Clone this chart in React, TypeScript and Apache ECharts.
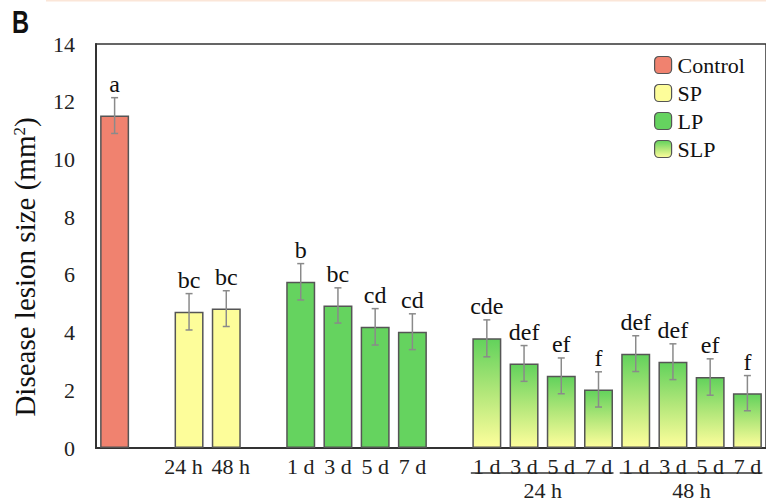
import React, { useEffect, useRef } from "react";
import * as echarts from "echarts";

// ---- data ----
const categoryIds = [
  "Control", "gap1", "SP-24h", "SP-48h", "gap2",
  "LP-1d", "LP-3d", "LP-5d", "LP-7d", "gap3",
  "SLP24-1d", "SLP24-3d", "SLP24-5d", "SLP24-7d",
  "SLP48-1d", "SLP48-3d", "SLP48-5d", "SLP48-7d",
];
const tickLabels = [
  "", "", "24 h", "48 h", "",
  "1 d", "3 d", "5 d", "7 d", "",
  "1 d", "3 d", "5 d", "7 d",
  "1 d", "3 d", "5 d", "7 d",
];
const groupOf = [
  "Control", "", "SP", "SP", "",
  "LP", "LP", "LP", "LP", "",
  "SLP", "SLP", "SLP", "SLP",
  "SLP", "SLP", "SLP", "SLP",
];
const means = [
  11.52, null, 4.72, 4.83, null,
  5.76, 4.94, 4.2, 4.03, null,
  3.8, 2.93, 2.5, 2.03,
  3.27, 2.99, 2.46, 1.9,
];
const errors = [
  0.62, null, 0.63, 0.62, null,
  0.63, 0.61, 0.63, 0.62, null,
  0.64, 0.62, 0.62, 0.61,
  0.62, 0.62, 0.63, 0.61,
];
const letters = [
  "a", "", "bc", "bc", "",
  "b", "bc", "cd", "cd", "",
  "cde", "def", "ef", "f",
  "def", "def", "ef", "f",
];
const seriesNames = ["Control", "SP", "LP", "SLP"];
const subGroups = [
  { label: "24 h", from: 10, to: 13 },
  { label: "48 h", from: 14, to: 17 },
];
const yTicks = { min: 0, max: 14, interval: 2 };

const SERIF = "Liberation Serif";
const BORDER = "#555";

const colorFor = (name: string): any => {
  if (name === "Control") return "#f0826f";
  if (name === "SP") return "#fdfd9a";
  if (name === "LP") return "#65d35f";
  return new echarts.graphic.LinearGradient(0, 0, 0, 1, [
    { offset: 0, color: "#62d25c" },
    { offset: 0.5, color: "#b3e77a" },
    { offset: 1, color: "#fefe9c" },
  ]);
};

export default function App() {
  const ref = useRef<HTMLDivElement>(null);

  useEffect(() => {
    document.body.style.margin = "0";
    document.body.style.overflow = "hidden";
    if (!ref.current) return;
    const chart = echarts.init(ref.current, undefined, { renderer: "svg" });

    const barSeries = seriesNames.map((name) => ({
      name,
      type: "bar",
      barWidth: 29,
      barGap: "-100%",
      itemStyle: { color: colorFor(name), borderColor: BORDER, borderWidth: 1.5 },
      data: means.map((v, i) => (groupOf[i] === name && v != null ? v : "-")),
    }));

    const errData = means
      .map((v, i) => (v != null ? [i, v, errors[i] as number] : null))
      .filter((d) => d !== null);

    const errSeries = {
      type: "custom",
      name: "err",
      silent: true,
      data: errData,
      renderItem: (params: any, api: any) => {
        const idx = api.value(0);
        const m = api.value(1);
        const e = api.value(2);
        const top = api.coord([idx, m + e]);
        const bot = api.coord([idx, m - e]);
        const cap = 3.5;
        const st = { stroke: "#8a8a8a", lineWidth: 1.5 };
        return {
          type: "group",
          children: [
            { type: "line", shape: { x1: top[0], y1: top[1], x2: bot[0], y2: bot[1] }, style: st },
            { type: "line", shape: { x1: top[0] - cap, y1: top[1], x2: top[0] + cap, y2: top[1] }, style: st },
            { type: "line", shape: { x1: bot[0] - cap, y1: bot[1], x2: bot[0] + cap, y2: bot[1] }, style: st },
            {
              type: "text",
              x: top[0],
              y: top[1] - 2,
              style: {
                text: letters[idx],
                fontFamily: SERIF,
                fontSize: 24,
                fill: "#111",
                align: "center",
                verticalAlign: "bottom",
              },
            },
          ],
        };
      },
      z: 5,
    };

    const baseGraphic: any[] = [
      {
        type: "line",
        shape: { x1: 46, y1: 0.5, x2: 766, y2: 0.5 },
        style: { stroke: "#fbe6d8", lineWidth: 2 },
      },
      {
        type: "text",
        x: 12,
        y: 22,
        scaleX: 0.74,
        style: {
          text: "B",
          fontFamily: "Liberation Sans",
          fontWeight: "bold",
          fontSize: 32,
          fill: "#111",
          align: "left",
          verticalAlign: "middle",
        },
      },
      {
        type: "text",
        x: 25,
        y: 267,
        rotation: Math.PI / 2,
        style: {
          text: "Disease lesion size (mm{sup|2})",
          fontFamily: SERIF,
          fontSize: 29,
          fill: "#111",
          align: "center",
          verticalAlign: "middle",
          rich: {
            sup: { fontFamily: SERIF, fontSize: 17, fill: "#111", verticalAlign: "top" },
          },
        },
      },
    ];

    const labelRich = {
      l: { fontFamily: SERIF, fontSize: 22, color: "#222", padding: [0, 11, 0, 0] },
      r: { fontFamily: SERIF, fontSize: 22, color: "#222", padding: [0, 0, 0, 9] },
    };

    chart.setOption({
      animation: false,
      grid: {
        left: 96,
        right: -5,
        top: 44,
        bottom: 53,
        show: true,
        borderColor: "#333",
        borderWidth: 1.5,
        backgroundColor: "transparent",
      },
      legend: {
        orient: "vertical",
        left: 654,
        top: 54,
        padding: 0,
        itemWidth: 17,
        itemHeight: 17,
        itemGap: 6,
        data: seriesNames,
        itemStyle: { borderColor: BORDER, borderWidth: 1.2 },
        textStyle: { fontFamily: SERIF, fontSize: 22, color: "#111", padding: [0, 0, 0, 1] },
      },
      xAxis: {
        type: "category",
        data: categoryIds,
        axisLine: { show: true, lineStyle: { color: "#333", width: 2 } },
        axisTick: { show: false },
        axisLabel: {
          interval: 0,
          margin: 7,
          fontFamily: SERIF,
          fontSize: 22,
          color: "#222",
          rich: labelRich,
          formatter: (_v: string, i: number) => {
            const t = tickLabels[i];
            if (groupOf[i] === "SP") return i === 2 ? `{l|${t}}` : `{r|${t}}`;
            return t;
          },
        },
        splitLine: { show: false },
      },
      yAxis: {
        type: "value",
        min: yTicks.min,
        max: yTicks.max,
        interval: yTicks.interval,
        axisLine: { show: true, lineStyle: { color: "#333", width: 2 } },
        axisTick: { show: false },
        axisLabel: { margin: 21, fontFamily: SERIF, fontSize: 22, color: "#222" },
        splitLine: { show: false },
      },
      series: [...barSeries, errSeries],
      graphic: baseGraphic,
    });

    const y0 = chart.convertToPixel({ yAxisIndex: 0 }, 0) as number;
    const extra: any[] = [];
    subGroups.forEach((g) => {
      const xa = chart.convertToPixel({ xAxisIndex: 0 }, g.from) as number;
      const xb = chart.convertToPixel({ xAxisIndex: 0 }, g.to) as number;
      extra.push({
        type: "line",
        shape: { x1: xa - 16, y1: y0 + 25, x2: xb + 15, y2: y0 + 25 },
        style: { stroke: "#333", lineWidth: 1.5 },
      });
      extra.push({
        type: "text",
        x: (xa + xb) / 2,
        y: y0 + 42,
        style: {
          text: g.label,
          fontFamily: SERIF,
          fontSize: 22,
          fill: "#222",
          align: "center",
          verticalAlign: "middle",
        },
      });
    });
    chart.setOption({ graphic: [...baseGraphic, ...extra] });

    return () => chart.dispose();
  }, []);

  return <div ref={ref} style={{ width: 766, height: 501 }} />;
}
